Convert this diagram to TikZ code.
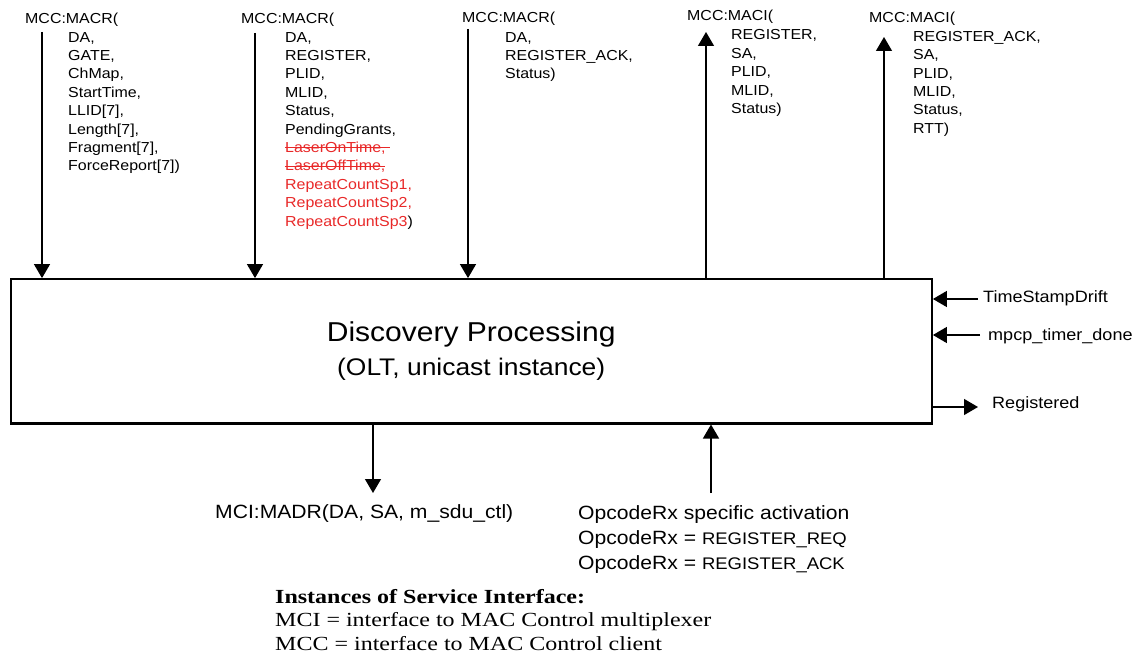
\documentclass[tikz,border=0pt]{standalone}
\usepackage{fontspec}
\setmainfont{Liberation Sans}[FakeStretch=1.1]
\newfontfamily\legendfont{Liberation Serif}[FakeStretch=1.2]
\usetikzlibrary{arrows.meta,positioning}
\definecolor{editred}{RGB}{232,40,40}

\tikzset{
  sig/.style={line width=1.3pt, -{Triangle[width=16pt,length=14pt]}},
  args/.style={font=\fontsize{14.5}{18.4}\selectfont, align=left, inner sep=0pt, anchor=north west},
  lbl/.style={font=\fontsize{16.4}{20}\selectfont, inner sep=0pt, anchor=base west},
}

\newsavebox{\strikebox}
\newcommand{\rd}[1]{\textcolor{editred}{#1}}
\newcommand{\struck}[1]{{\color{editred}\sbox{\strikebox}{#1}\rlap{\rule[0.3em]{\wd\strikebox}{1pt}}\usebox{\strikebox}}}

\begin{document}
\begin{tikzpicture}[x=1pt,y=-1pt]
    \useasboundingbox (0,0) rectangle (1143,660);

    % process box
    \node[draw, line width=2.4pt, minimum width=921pt, minimum height=144pt, inner sep=0pt,
          anchor=north west, align=center, font=\fontsize{27.3}{34}\selectfont] (disc) at (9.5,278.1)
          {Discovery Processing\\{\fontsize{24}{34}\selectfont (OLT, unicast instance)}};

    % GATE request
    \node[args] (grant head) at (25,13) {MCC:MACR(};
    \node[args] (grant args) at (68,32) {DA,\\GATE,\\ChMap,\\StartTime,\\LLID[7],\\Length[7],\\Fragment[7],\\ForceReport[7])};
    \coordinate (grant in) at (42,32);
    \draw[sig] (grant in) -- (grant in |- disc.north);

    % REGISTER request
    \node[args] (reg head) at (241,13) {MCC:MACR(};
    \node[args] (reg args) at (285,32) {DA,\\REGISTER,\\PLID,\\MLID,\\Status,\\PendingGrants,\\\struck{LaserOnTime,\ }\\\struck{LaserOffTime,}\\\rd{RepeatCountSp1,}\\\rd{RepeatCountSp2,}\\\rd{RepeatCountSp3})};
    \coordinate (reg in) at (255,33);
    \draw[sig] (reg in) -- (reg in |- disc.north);

    % REGISTER_ACK request
    \node[args] (ack head) at (462,11.7) {MCC:MACR(};
    \node[args] (ack args) at (505,32) {DA,\\REGISTER\_ACK,\\Status)};
    \coordinate (ack in) at (468,29);
    \draw[sig] (ack in) -- (ack in |- disc.north);

    % REGISTER indication
    \node[args] (regi head) at (687,10) {MCC:MACI(};
    \node[args] (regi args) at (731,29.5) {REGISTER,\\SA,\\PLID,\\MLID,\\Status)};
    \coordinate (regi out) at (706,32);
    \draw[sig] (regi out |- disc.north) -- (regi out);

    % REGISTER_ACK indication
    \node[args] (acki head) at (869,11.5) {MCC:MACI(};
    \node[args] (acki args) at (913,31) {REGISTER\_ACK,\\SA,\\PLID,\\MLID,\\Status,\\RTT)};
    \coordinate (acki out) at (884,37);
    \draw[sig] (acki out |- disc.north) -- (acki out);

    % side signals
    \node[lbl] (drift) at (983,303) {TimeStampDrift};
    \coordinate (drift in) at (978,299);
    \draw[sig] (drift in) -- (drift in -| disc.east);

    \node[lbl] (timer) at (988,341) {mpcp\_timer\_done};
    \coordinate (timer in) at (980,335);
    \draw[sig] (timer in) -- (timer in -| disc.east);

    \node[lbl] (registered) at (992,408) {Registered};
    \coordinate (registered out) at (978,407);
    \draw[sig] (registered out -| disc.east) -- (registered out);

    % MCI side
    \coordinate (madr out) at (373,493);
    \draw[sig] (madr out |- disc.south) -- (madr out);
    \node[anchor=base west, inner sep=0pt, font=\fontsize{19.2}{25}\selectfont] (madr) at (215,518) {MCI:MADR(DA, SA, m\_sdu\_ctl)};

    \coordinate (opcode in) at (711,493);
    \draw[sig] (opcode in) -- (opcode in |- disc.south);
    \node[args, font=\fontsize{19.2}{25}\selectfont] (opcode) at (578,505)
        {OpcodeRx specific activation\\OpcodeRx = {\fontsize{16.8}{25}\selectfont REGISTER\_REQ}\\OpcodeRx = {\fontsize{16.8}{25}\selectfont REGISTER\_ACK}};

    % legend
    \node[args, font=\legendfont\fontsize{20}{23.5}\selectfont] (legend) at (275,589)
        {\textbf{Instances of Service Interface:}\\MCI = interface to MAC Control multiplexer\\MCC = interface to MAC Control client};

\end{tikzpicture}
\end{document}
